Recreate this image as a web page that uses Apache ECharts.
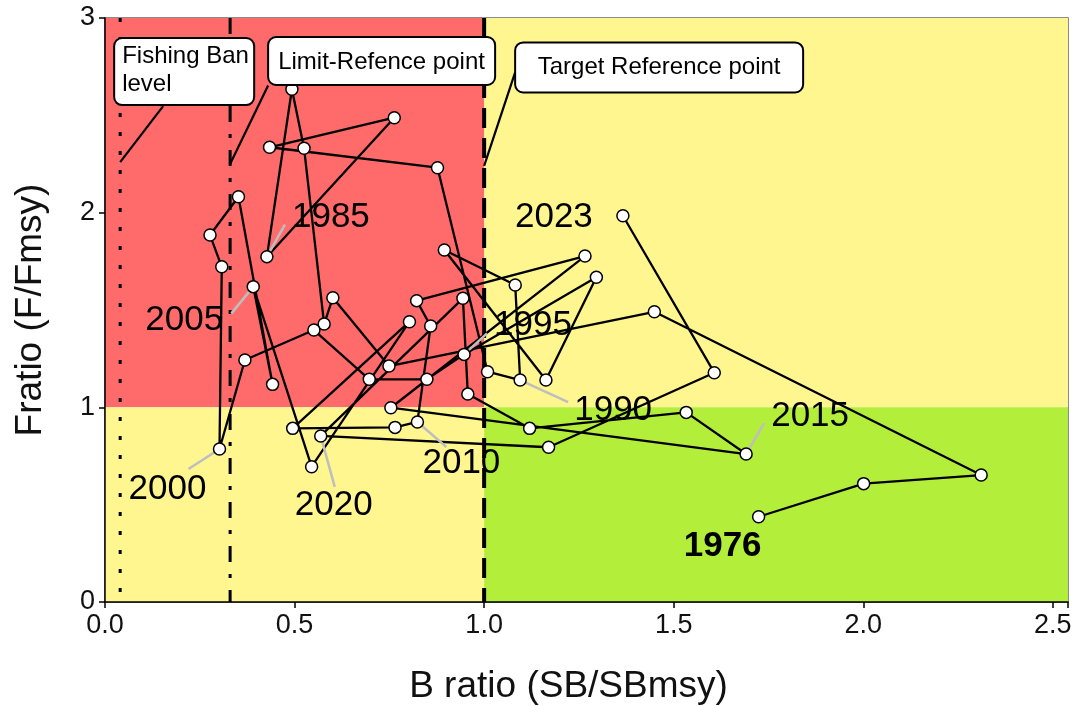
<!DOCTYPE html>
<html><head><meta charset="utf-8">
<script src="https://cdn.jsdelivr.net/npm/echarts@6/dist/echarts.min.js"></script>
<style>html,body{margin:0;padding:0;background:#fff}#c{width:1079px;height:706px}</style>
</head><body><div id="c"></div>
<script>
// ---- data ----
const years = [1976,1977,1978,1979,1980,1981,1982,1983,1984,1985,1986,1987,1988,1989,1990,1991,1992,1993,1994,1995,1996,1997,1998,1999,2000,2001,2002,2003,2004,2005,2006,2007,2008,2009,2010,2011,2012,2013,2014,2015,2016,2017,2018,2019,2020,2021,2022,2023];
const bRatio = [1.724,2.001,2.311,1.449,0.749,0.601,0.578,0.525,0.493,0.427,0.763,0.434,0.877,1.009,1.095,1.082,0.895,1.163,1.296,0.947,0.849,0.697,0.551,0.369,0.302,0.308,0.277,0.352,0.442,0.391,0.545,0.803,0.495,0.765,0.824,0.859,0.822,1.266,0.754,1.691,1.533,1.120,0.957,0.944,0.569,1.170,1.607,1.366];
const fRatio = [0.438,0.608,0.652,1.491,1.212,1.563,1.428,2.331,2.634,1.774,2.488,2.336,2.231,1.183,1.140,1.628,1.808,1.140,1.668,1.272,1.144,1.144,1.397,1.243,0.786,1.722,1.885,2.082,1.118,1.620,0.695,1.440,0.892,0.897,0.925,1.418,1.548,1.777,0.998,0.760,0.974,0.892,1.068,1.560,0.853,0.795,1.178,1.984];
const labeledYears = [1976,1985,1990,1995,2000,2005,2010,2015,2020,2023];
const xTickLabels = ['0.0','0.5','1.0','1.5','2.0','2.5'];
const yTickLabels = ['0','1','2','3'];
const refX = [0.04, 0.33, 1.0];
const refNames = ['Fishing Ban\nlevel', 'Limit-Refence point', 'Target Reference point'];
const refAnchorY = [2.26, 2.25, 2.24];
const bLimit = 1, fLimit = 1, xMax = 2.54, yMax = 3;

// ---- styles (pixel offsets for annotations) ----
const FONT = '"Liberation Sans", Arial, sans-serif';
const labelStyle = {
  1976:{tx:-36,ty:30,bold:true},
  1985:{tx:64,ty:-39,px:18,py:-32},
  1990:{tx:93,ty:30,px:48,py:22},
  1995:{tx:69,ty:-29,px:23,py:-21},
  2000:{tx:-52,ty:40,px:-31,py:20},
  2005:{tx:-69,ty:34,px:-22,py:27},
  2010:{tx:44,ty:41,px:29,py:25},
  2015:{tx:64,ty:-38,px:18,py:-31},
  2020:{tx:13,ty:69,px:14,py:51},
  2023:{tx:-69,ty:2}
};
const boxStyle = [
  {bx:-6,by:-124,bw:140,bh:67,sx:43,sy:-56,tx:2,ty:-91.5,align:'left'},
  {bx:38,by:-127,bw:227,bh:48,sx:38,sy:-78.6,tx:151.4,ty:-101.6,align:'center'},
  {bx:31,by:-123.5,bw:288,bh:50,sx:31,sy:-93.5,tx:175,ty:-98.5,align:'center'}
];
const zoneColors = {red:'#FF6A6A', yellow:'#FFF68F', green:'#B3EE3A'};

const zones = [
  [0,bLimit,fLimit,yMax,'red'],
  [0,bLimit,0,fLimit,'yellow'],
  [bLimit,xMax,fLimit,yMax,'yellow'],
  [bLimit,xMax,0,fLimit,'green']
];
const points = bRatio.map((b,i)=>[b,fRatio[i],years[i]]);
const labelData = labeledYears.map(y=>{const i=years.indexOf(y);return [bRatio[i],fRatio[i],y];});
const refData = refX.map((x,i)=>[x,refAnchorY[i],i]);
const refDash = [[4,15],[16,12,4,12],[20,10]];
const refWidth = [3,3,4];

const chart = echarts.init(document.getElementById('c'), null, {renderer:'canvas'});
chart.setOption({
  animation:false,
  grid:{left:105, right:11, top:18, bottom:104, outerBoundsMode:'none', containLabel:false,
    show:true, borderColor:'#666', borderWidth:1.5, backgroundColor:'transparent'},
  xAxis:{type:'value', min:0, max:xMax, interval:0.5,
    axisLine:{show:true,onZero:false,lineStyle:{color:'#000',width:1.5}},
    axisTick:{show:true,length:6,lineStyle:{color:'#000',width:1.5}},
    splitLine:{show:false},
    axisLabel:{fontSize:27,color:'#111',fontFamily:FONT,margin:10,
      formatter:v=>{const k=Math.round(v*2);return Math.abs(v*2-k)<1e-6?xTickLabels[k]:'';}},
    name:'B ratio (SB/SBmsy)', nameLocation:'middle', nameGap:66,
    nameTextStyle:{fontSize:37,color:'#111',fontFamily:FONT,padding:[0,36,0,0]}},
  yAxis:{type:'value', min:0, max:yMax, interval:1,
    axisLine:{show:true,onZero:false,lineStyle:{color:'#000',width:1.5}},
    axisTick:{show:true,length:6,lineStyle:{color:'#000',width:1.5}},
    splitLine:{show:false},
    axisLabel:{fontSize:27,color:'#111',fontFamily:FONT,margin:10,formatter:v=>yTickLabels[Math.round(v)]},
    name:'Fratio (F/Fmsy)', nameLocation:'middle', nameGap:56, nameRotate:90,
    nameTextStyle:{fontSize:37,color:'#111',fontFamily:FONT}},
  series:[
    {type:'custom', z:0, silent:true, data:zones,
      renderItem:(p,api)=>{
        const a=api.coord([api.value(0),api.value(3)]), b=api.coord([api.value(1),api.value(2)]);
        return {type:'rect', shape:{x:a[0],y:a[1],width:b[0]-a[0],height:b[1]-a[1]}, style:{fill:zoneColors[zones[p.dataIndex][4]]}};
      }},
    {type:'custom', z:1, silent:true, data:refData,
      renderItem:(p,api)=>{
        const i=api.value(2);
        const t=api.coord([api.value(0),yMax]), b=api.coord([api.value(0),0]);
        return {type:'line', shape:{x1:t[0],y1:t[1],x2:b[0],y2:b[1]}, style:{stroke:'#000',lineWidth:refWidth[i],lineDash:refDash[i]}};
      }},
    {type:'line', z:2, data:points, symbol:'none', lineStyle:{color:'#000',width:2.3}, silent:true},
    {type:'custom', z:3, silent:true, data:labelData,
      renderItem:(p,api)=>{
        const yr=api.value(2), c=api.coord([api.value(0),api.value(1)]), s=labelStyle[yr];
        const ch=[];
        if(s.px!==undefined) ch.push({type:'line',shape:{x1:c[0],y1:c[1],x2:c[0]+s.px,y2:c[1]+s.py},style:{stroke:'#BEBEBE',lineWidth:2.5}});
        ch.push({type:'text',style:{text:String(yr),x:c[0]+s.tx,y:c[1]+s.ty,align:'center',verticalAlign:'middle',
          fontSize:35,fontWeight:s.bold?'bold':'normal',fontFamily:FONT,fill:'#000'}});
        return {type:'group',children:ch};
      }},
    {type:'scatter', z:5, data:points, symbol:'circle', symbolSize:12,
      itemStyle:{color:'#fff',borderColor:'#000',borderWidth:1.5,opacity:1}, silent:true},
    {type:'custom', z:6, silent:true, data:refData,
      renderItem:(p,api)=>{
        const i=api.value(2), c=api.coord([api.value(0),api.value(1)]), s=boxStyle[i];
        return {type:'group',children:[
          {type:'line',shape:{x1:c[0]+s.sx,y1:c[1]+s.sy,x2:c[0],y2:c[1]},style:{stroke:'#000',lineWidth:2.2}},
          {type:'rect',shape:{x:c[0]+s.bx,y:c[1]+s.by,width:s.bw,height:s.bh,r:8},style:{fill:'#fff',stroke:'#000',lineWidth:2}},
          {type:'text',style:{text:refNames[i],x:c[0]+s.tx,y:c[1]+s.ty,align:s.align,verticalAlign:'middle',
            fontSize:24,lineHeight:28,fontFamily:FONT,fill:'#000'}}
        ]};
      }}
  ]
});
</script></body></html>
